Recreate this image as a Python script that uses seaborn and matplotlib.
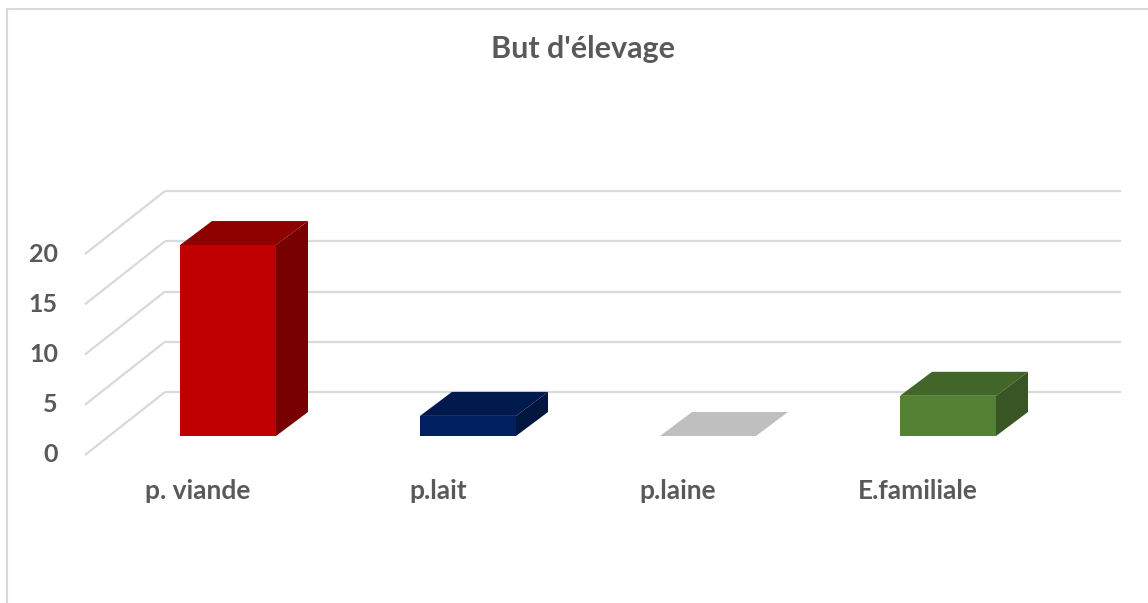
import matplotlib
matplotlib.use("Agg")
import matplotlib.pyplot as plt
import seaborn as sns
from matplotlib.patches import Polygon

# ---- data ----
categories = ["p. viande", "p.lait", "p.laine", "E.familiale"]
values = [19, 2, 0, 4]
y_ticks = [0, 5, 10, 15, 20]
title = "But d'élevage"

# face colours of each 3D bar (front, top, right side)
front_colors = ["#C00000", "#002060", "#BFBFBF", "#548235"]
top_colors = ["#8E0000", "#001A4E", "#BFBFBF", "#426629"]
side_colors = ["#790000", "#00163F", "#A6A6A6", "#375623"]

TEXT = "#595959"
GRID = "#D9D9D9"

sns.set_theme(style="white")
plt.rcParams["font.family"] = ["Lato", "DejaVu Sans"]

W, H = 1148, 603
fig = plt.figure(figsize=(W / 100, H / 100), dpi=100)
ax = fig.add_axes([0, 0, 1, 1])

sns.barplot(x=categories, y=values, hue=categories, palette=front_colors,
            width=0.4, saturation=1, legend=False, ax=ax, zorder=3,
            linewidth=0)

# pixel scale of the data space: one category step and one value unit
px_x = 240.0
px_y = 10.05
x0_px = 228.0   # centre of the first category
y0_px = 436.0   # value 0 on the plane of the bar fronts
ax.set_xlim(-x0_px / px_x, (W - x0_px) / px_x)
ax.set_ylim((y0_px - H) / px_y, y0_px / px_y)
ax.set_axis_off()

# oblique projection offsets (data units)
bar_dx, bar_dy = 32 / px_x, 24 / px_y        # depth of a bar
back_dx, back_dy = 56 / px_x, 44 / px_y      # bar front -> back wall
front_dx, front_dy = -24 / px_x, -19 / px_y  # bar front -> front edge
wall_left = (165 - x0_px) / px_x
wall_right = (1121 - x0_px) / px_x
depth_dx = back_dx - front_dx

# back wall gridlines and the matching lines on the left wall
for v in y_ticks:
    yb = v + back_dy
    ax.plot([wall_left, wall_right], [yb, yb], color=GRID, lw=1.6,
            zorder=0, solid_capstyle="butt")
    ax.plot([wall_left - depth_dx, wall_left], [v + front_dy, yb],
            color=GRID, lw=1.6, zorder=0, solid_capstyle="butt")
    ax.text((58 - x0_px) / px_x, v + front_dy, str(v), ha="right",
            va="center", fontsize=18, fontweight="bold", color=TEXT)

# top and side faces built on the bars drawn by seaborn
for i, bar in enumerate(ax.patches):
    x = bar.get_x()
    w = bar.get_width()
    h = bar.get_height()
    top = Polygon([(x, h), (x + w, h), (x + w + bar_dx, h + bar_dy),
                   (x + bar_dx, h + bar_dy)], closed=True,
                  facecolor=top_colors[i], edgecolor="none", zorder=3)
    ax.add_patch(top)
    if h > 0:
        side = Polygon([(x + w, 0), (x + w + bar_dx, bar_dy),
                        (x + w + bar_dx, h + bar_dy), (x + w, h)],
                       closed=True, facecolor=side_colors[i],
                       edgecolor="none", zorder=3)
        ax.add_patch(side)

# category labels along the front edge of the floor
for i, cat in enumerate(categories):
    ax.text(i - 30 / px_x, (y0_px - 499) / px_y, cat, ha="center",
            va="baseline", fontsize=19, fontweight="bold", color=TEXT)

fig.text(583 / W, 1 - 58 / H, title, ha="center", va="baseline",
         fontsize=22, fontweight="bold", color=TEXT)

# light frame of the chart area
ax.plot([7 / W, 7 / W, 1], [0, 1 - 9 / H, 1 - 9 / H], color=GRID, lw=1.5,
        transform=ax.transAxes, clip_on=False, zorder=0)

fig.savefig("out.png", dpi=100, facecolor="white")
